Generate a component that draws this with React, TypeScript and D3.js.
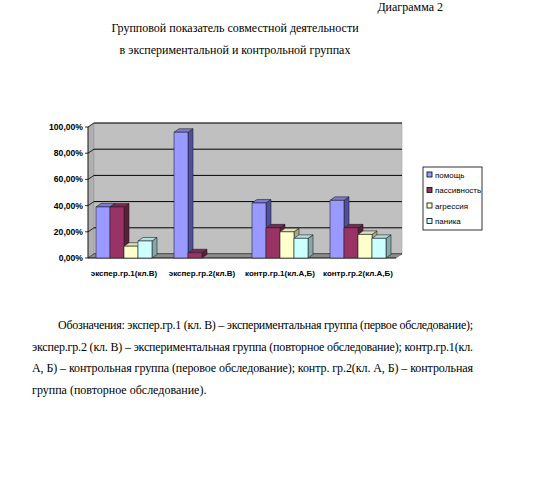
import React from "react";
import * as d3 from "d3";

const categories = ["экспер.гр.1(кл.В)", "экспер.гр.2(кл.В)", "контр.гр.1(кл.А,Б)", "контр.гр.2(кл.А,Б)"];
const seriesNames = ["помощь", "пассивность", "агрессия", "паника"];
const pomosch = [0.39, 0.96, 0.42, 0.44];
const passivnost = [0.39, 0.04, 0.23, 0.23];
const agressiya = [0.09, 0, 0.2, 0.18];
const panika = [0.13, 0, 0.15, 0.15];
const yTicks = [0, 0.2, 0.4, 0.6, 0.8, 1.0];
const seriesValues = [pomosch, passivnost, agressiya, panika];

const front = ["#9999FF", "#993366", "#FFFFCC", "#CCFFFF"];
const side = ["#4F4F9E", "#5A1D3A", "#A8A884", "#86A8A8"];
const topC = ["#7C7CD6", "#7A2A52", "#E0E0B4", "#B0E0E0"];

const fmt = (v: number) => (v * 100).toFixed(2).replace(".", ",") + "%";

export default function App() {
  const W = 557, H = 479;
  const ax0 = 88, ax1 = 396;
  const dx = 6, dy = -4; // wall depth
  const bdx = 5, bdy = -3.5; // bar depth
  const y = d3.scaleLinear().domain([0, 1]).range([258, 127]);
  const x = d3.scaleBand().domain(categories).range([85, 397]).paddingInner(0).paddingOuter(0);
  const groupW = 56;
  const xs = d3.scaleBand().domain(seriesNames).range([0, groupW]).padding(0);
  const bw = xs.bandwidth();
  const y0 = y(0);

  const bars: any[] = [];
  categories.forEach((c, ci) => {
    seriesNames.forEach((s, si) => {
      const v = seriesValues[si][ci];
      if (v <= 0) return;
      const bx = (x(c) as number) + x.bandwidth() / 2 - groupW / 2 + (xs(s) as number);
      const ty = y(v);
      bars.push(
        <g key={c + s} stroke="#222" strokeWidth={0.6} strokeLinejoin="round">
          <polygon points={`${bx + bw},${ty} ${bx + bw + bdx},${ty + bdy} ${bx + bw + bdx},${y0 + bdy} ${bx + bw},${y0}`} fill={side[si]} />
          <polygon points={`${bx},${ty} ${bx + bdx},${ty + bdy} ${bx + bw + bdx},${ty + bdy} ${bx + bw},${ty}`} fill={topC[si]} />
          <rect x={bx} y={ty} width={bw} height={y0 - ty} fill={front[si]} />
        </g>
      );
    });
  });

  const sans = "'Liberation Sans', Arial, sans-serif";
  const serif = "'Liberation Serif', 'Times New Roman', serif";

  return (
    <svg width={W} height={H} style={{ position: "absolute", left: 0, top: 0, background: "#fff" }}>
      <rect x={0} y={0} width={W} height={H} fill="#fff" />
      <text x={443} y={11} textAnchor="end" fontFamily={serif} fontSize={12}>Диаграмма 2</text>
      <text x={235} y={32} textAnchor="middle" fontFamily={serif} fontSize={12}>Групповой показатель совместной деятельности</text>
      <text x={235} y={54} textAnchor="middle" fontFamily={serif} fontSize={12}>в экспериментальной и контрольной группах</text>

      <polygon points={`${ax0},${y(1)} ${ax0 + dx},${y(1) + dy} ${ax0 + dx},${y0 + dy} ${ax0},${y0}`} fill="#B0B0B0" stroke="#888" strokeWidth={0.5} />
      <rect x={ax0 + dx} y={y(1) + dy} width={ax1 - ax0} height={y0 - y(1)} fill="#C0C0C0" stroke="#999" strokeWidth={0.5} />
      {yTicks.map((t) => (
        <g key={t}>
          <line x1={ax0 + dx} x2={ax1 + dx} y1={y(t) + dy} y2={y(t) + dy} stroke="#000" strokeWidth={1} />
          <line x1={ax0} x2={ax0 + dx} y1={y(t)} y2={y(t) + dy} stroke="#000" strokeWidth={0.8} />
          <line x1={ax0 - 3} x2={ax0} y1={y(t)} y2={y(t)} stroke="#000" strokeWidth={0.8} />
          <text x={ax0 - 5} y={y(t) + 3} textAnchor="end" fontFamily={sans} fontSize={8.6} fontWeight="bold">{fmt(t)}</text>
        </g>
      ))}
      <polygon points={`${ax0},${y0} ${ax0 + dx},${y0 + dy} ${ax1 + dx},${y0 + dy} ${ax1},${y0}`} fill="#8C8C8C" stroke="#555" strokeWidth={0.5} />
      <line x1={ax0} x2={ax0} y1={y(1)} y2={y0} stroke="#000" strokeWidth={0.8} />
      <line x1={ax0} x2={ax1} y1={y0} y2={y0} stroke="#000" strokeWidth={0.8} />
      {bars}
      {categories.map((c) => (
        <text key={c} x={(x(c) as number) + x.bandwidth() / 2} y={276} textAnchor="middle" fontFamily={sans} fontSize={8} fontWeight="bold">{c}</text>
      ))}

      <rect x={423} y={167} width={59} height={63} fill="#fff" stroke="#000" strokeWidth={0.8} />
      {seriesNames.map((s, i) => (
        <g key={s}>
          <rect x={427} y={172 + i * 15.5} width={5} height={5} fill={front[i]} stroke="#000" strokeWidth={0.8} />
          <text x={435} y={177.5 + i * 15.5} fontFamily={sans} fontSize={8}>{s}</text>
        </g>
      ))}

      <text x={58} y={329} fontFamily={serif} fontSize={12} textLength={415} lengthAdjust="spacing">Обозначения: экспер.гр.1 (кл. В) – экспериментальная группа (первое обследование);</text>
      <text x={32} y={351} fontFamily={serif} fontSize={12} textLength={441} lengthAdjust="spacing">экспер.гр.2 (кл. В) – экспериментальная группа (повторное обследование); контр.гр.1(кл.</text>
      <text x={32} y={372} fontFamily={serif} fontSize={12} textLength={441} lengthAdjust="spacing">А, Б) – контрольная группа (перовое обследование); контр. гр.2(кл. А, Б) – контрольная</text>
      <text x={32} y={394} fontFamily={serif} fontSize={12}>группа (повторное обследование).</text>
    </svg>
  );
}
